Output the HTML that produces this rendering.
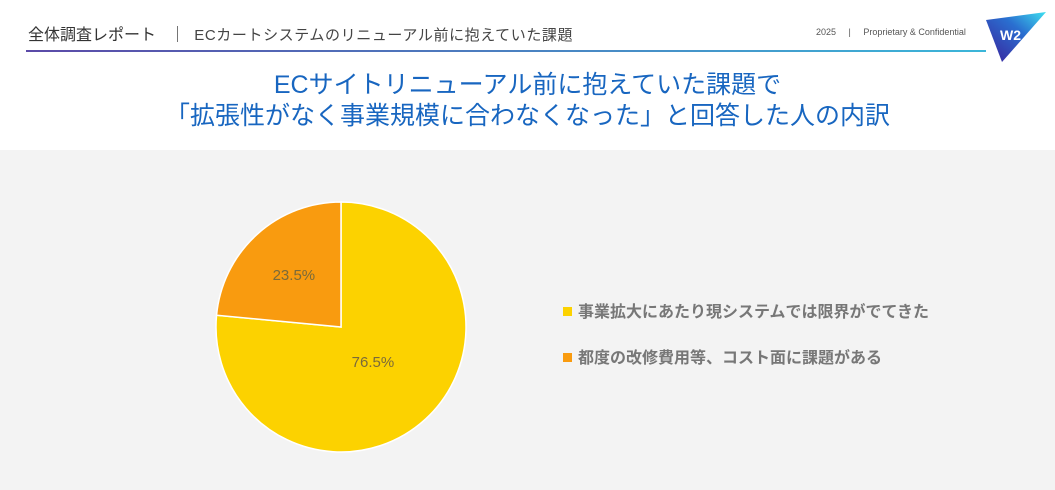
<!DOCTYPE html>
<html><head><meta charset="utf-8">
<style>
body{margin:0;width:1055px;height:490px;overflow:hidden;background:#fff;font-family:"Liberation Sans","Noto Sans CJK JP",sans-serif;position:relative}
.abs{position:absolute}
</style></head><body>
<div class="abs" style="left:28px;top:21px;font-size:16px;color:#333;white-space:nowrap">全体調査レポート&nbsp;&nbsp;&nbsp;｜&nbsp;&nbsp;<span style="font-size:15px;color:#444;letter-spacing:0.6px">ECカートシステムのリニューアル前に抱えていた課題</span></div>
<div class="abs" style="left:816px;top:27px;font-size:9px;color:#555;white-space:nowrap">2025 &nbsp;&nbsp;&nbsp;&nbsp;|&nbsp;&nbsp;&nbsp;&nbsp; Proprietary &amp; Confidential</div>
<div class="abs" style="left:26px;top:50px;width:960px;height:2px;background:linear-gradient(90deg,#5b4aa8,#3bb6d9)"></div>
<svg class="abs" style="left:984px;top:10px" width="64" height="54" viewBox="0 0 64 54">
<defs><linearGradient id="lg" x1="0" y1="1" x2="1" y2="0"><stop offset="0" stop-color="#3a1f9a"/><stop offset="0.6" stop-color="#2a6fd0"/><stop offset="1" stop-color="#3ee0f0"/></linearGradient></defs>
<polygon points="2,10 62,2 18,52" fill="url(#lg)"/>
<text x="16" y="30" font-size="14" font-weight="bold" fill="#fff" font-family="Liberation Sans,sans-serif">W2</text></svg>
<div class="abs" style="left:0;top:70px;width:1055px;text-align:center;font-size:25px;line-height:31px;color:#1866c0">ECサイトリニューアル前に抱えていた課題で<br>「拡張性がなく事業規模に合わなくなった」と回答した人の内訳</div>
<div class="abs" style="left:0;top:150px;width:1055px;height:340px;background:#f3f3f3"></div>
<svg id="pie" class="abs" style="left:0;top:150px" width="1055" height="340"></svg>
<script>
const labels=["事業拡大にあたり現システムでは限界がでてきた","都度の改修費用等、コスト面に課題がある"];
const values=[76.5,23.5];
const colors=["#fcd200","#f99b0f"];
const svg=document.getElementById('pie');
const NS="http://www.w3.org/2000/svg";
const cx=341,cy=177,r=125;
const total=values.reduce((a,b)=>a+b,0);
let a0=0;
values.forEach((v,i)=>{
  const frac=v/total;
  const a1=a0+frac*2*Math.PI;
  const p=(a)=>[cx+r*Math.sin(a),cy-r*Math.cos(a)];
  const [x0,y0]=p(a0),[x1,y1]=p(a1);
  const path=document.createElementNS(NS,'path');
  path.setAttribute('d',`M${cx},${cy}L${x0},${y0}A${r},${r} 0 ${a1-a0>Math.PI?1:0} 1 ${x1},${y1}Z`);
  path.setAttribute('fill',colors[i]);path.setAttribute('stroke','#fff');path.setAttribute('stroke-width','1.5');
  
  
  svg.appendChild(path);
  const m=(a0+a1)/2,lr=r*(0.64-0.34*frac);
  const t=document.createElementNS(NS,'text');
  t.setAttribute('x',cx+lr*Math.sin(m));t.setAttribute('y',cy-lr*Math.cos(m)+5);
  t.setAttribute('text-anchor','middle');t.setAttribute('font-size','15');t.setAttribute('fill','#7a6a3a');
  t.textContent=v.toFixed(1)+'%';
  
  
  svg.appendChild(t);
  const ly=161+i*46;
  const sq=document.createElementNS(NS,'rect');
  sq.setAttribute('x',563);sq.setAttribute('y',ly-4);sq.setAttribute('width',9);sq.setAttribute('height',9);sq.setAttribute('fill',colors[i]);
  
  
  svg.appendChild(sq);
  const lt=document.createElementNS(NS,'text');
  lt.setAttribute('x',578);lt.setAttribute('y',ly+6);lt.setAttribute('font-size','16');lt.setAttribute('font-weight','bold');lt.setAttribute('fill','#777');
  lt.setAttribute('font-family','Liberation Sans, Noto Sans CJK JP, sans-serif');
  lt.textContent=labels[i];
  
  
  svg.appendChild(lt);
  a0=a1;
});
</script>
</body></html>
